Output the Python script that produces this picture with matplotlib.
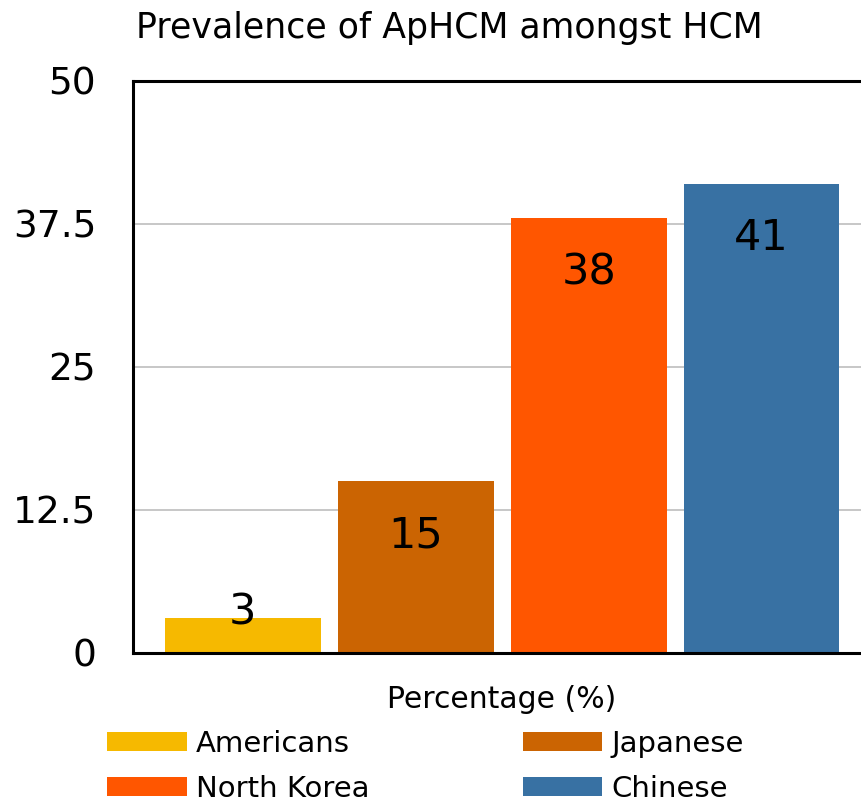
import matplotlib
matplotlib.use('Agg')
import matplotlib.pyplot as plt
import numpy as np

# ── Data ─────────────────────────────────────────────────────────────────────
groups     = ['Americans', 'Japanese', 'North Korea', 'Chinese']
prevalence = [3, 15, 38, 41]
y_ticks    = [0, 12.5, 25, 37.5, 50]
tick_text  = ['0', '12.5', '25', '37.5', '50']

COLORS = ['#F6B900', '#CB6402', '#FF5600', '#3871A3']

W, H, DPI = 861, 805, 100
plt.rcParams['font.family'] = ['DejaVu Sans']

fig = plt.figure(figsize=(W / DPI, H / DPI), dpi=DPI)

# axes box in pixels: left 133, right 872 (runs past the canvas), top 81, bottom 653
left, right, top, bottom = 133, 872, 80.7, 652.7
ax = fig.add_axes([left / W, 1 - bottom / H, (right - left) / W, (bottom - top) / H])

x = np.arange(len(groups))
bars = ax.bar(x, prevalence, width=0.9, color=COLORS, label=groups, zorder=2)

ax.set_xlim(-0.635, 3.638)
ax.set_ylim(0, 50)
ax.set_yticks(y_ticks)
ax.set_yticklabels(tick_text, fontsize=27)
ax.set_xticks([])
ax.tick_params(axis='y', length=0, pad=26.5)
ax.yaxis.grid(True, color='#bdbdbd', linewidth=1.2, zorder=0)
ax.set_axisbelow(True)

for side in ['left', 'top', 'bottom']:
    ax.spines[side].set_linewidth(2.2)
    ax.spines[side].set_color('black')
ax.spines['right'].set_visible(False)

# value labels: inside the top of the bar, above it when the bar is short
for bar, val in zip(bars, prevalence):
    cx = bar.get_x() + bar.get_width() / 2
    offset = 4.5 if val < 5 else -39
    ax.annotate(str(val), (cx, val), xytext=(0, offset), textcoords='offset points',
                ha='center', va='center', fontsize=31, color='black', zorder=3)

fig.text(136 / W, 1 - 37.7 / H, 'Prevalence of ApHCM amongst HCM',
         fontsize=25, ha='left', va='baseline')
fig.text(502 / W, 1 - 707.7 / H, 'Percentage (%)',
         fontsize=21.5, ha='center', va='baseline')

# legend reads row by row, matplotlib fills column by column
order = [0, 2, 1, 3]
fig.legend(handles=[bars[i] for i in order], labels=[groups[i] for i in order],
           ncol=2, frameon=False,
           loc='upper left', bbox_to_anchor=(107 / W, 1 - 730 / H),
           bbox_transform=fig.transFigure, fontsize=21,
           handlelength=2.74, handleheight=0.62, handletextpad=0.31,
           columnspacing=5.25, labelspacing=0.57, borderpad=0, borderaxespad=0)

fig.savefig('out.png', dpi=DPI)
